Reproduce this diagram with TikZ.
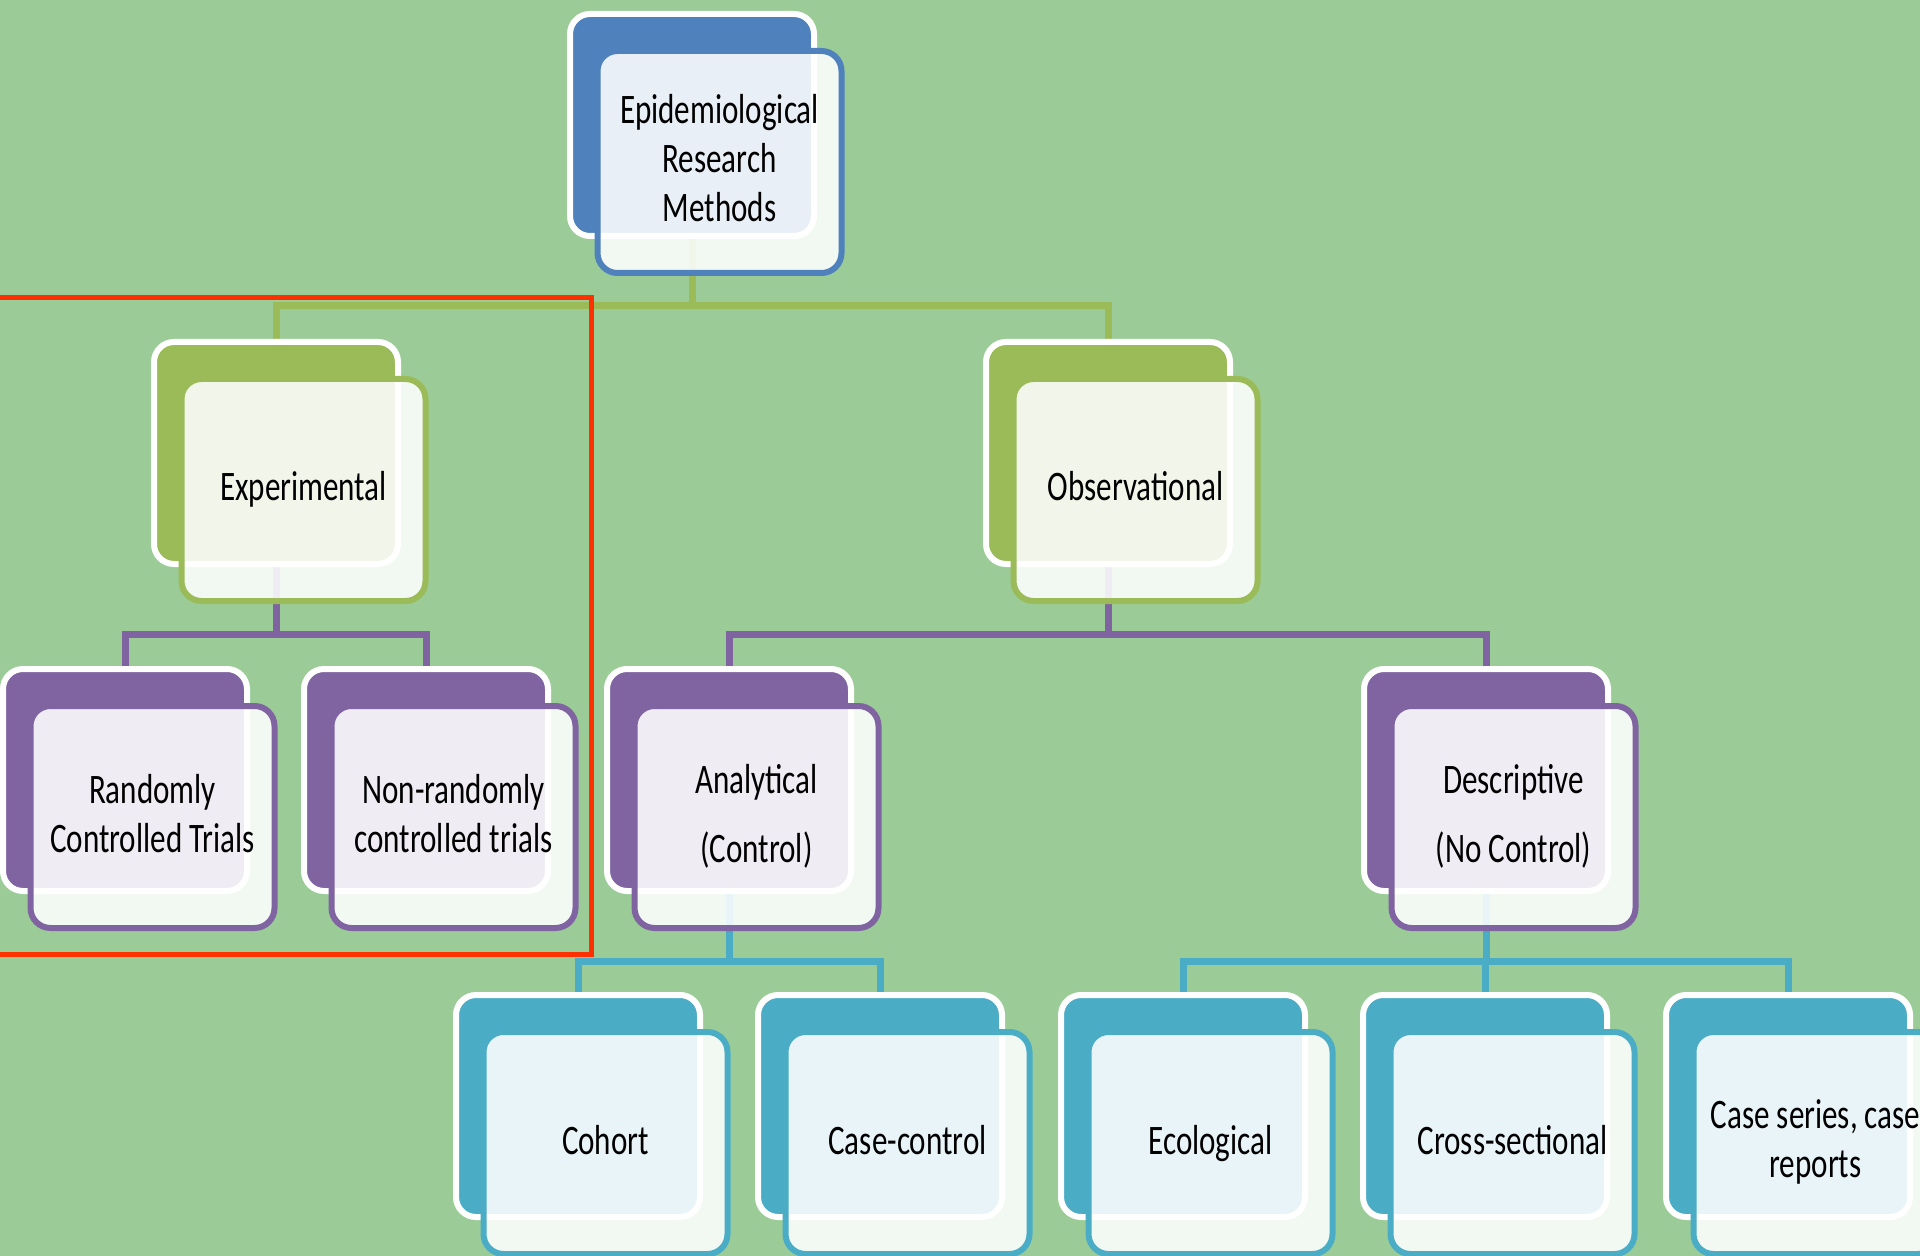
\documentclass[tikz,border=0pt]{standalone}
\usepackage{fontspec}
\newfontfamily\boxfont[FakeStretch=0.74]{Carlito}
\definecolor{bgc}{RGB}{155,204,152}
\definecolor{cblue}{RGB}{79,129,189}
\definecolor{cgreen}{RGB}{155,187,89}
\definecolor{cpurple}{RGB}{128,100,162}
\definecolor{caqua}{RGB}{75,172,198}
\definecolor{cred}{RGB}{255,48,0}
\pgfdeclarelayer{bg}
\pgfdeclarelayer{links}
\pgfsetlayers{bg,links,main}
% fixed line box so that every label is centred the same way
\newcommand{\boxstrut}{\rule[-4pt]{0pt}{19pt}}
\begin{document}
\begin{tikzpicture}[x=0.5pt,y=-0.5pt,
  back/.style={draw=white, line width=3pt, rounded corners=10pt,
    minimum width=122pt, minimum height=111pt, inner sep=0pt, fill=#1},
  front/.style={draw=#1, line width=3pt, rounded corners=10pt,
    minimum width=122pt, minimum height=111pt, inner sep=0pt,
    fill=white, fill opacity=0.88, text opacity=1, align=center,
    font=\boxfont\fontsize{21}{24.5}\selectfont, text=black,
    execute at begin node=\boxstrut, execute at end node=\boxstrut},
  link/.style={draw=#1, line width=3.5pt},
]
\useasboundingbox (0,0) rectangle (1920,1256);
\clip (0,0) rectangle (1920,1256);
\begin{pgfonlayer}{bg}
  \fill[bgc] (0,0) rectangle (1920,1256);
\end{pgfonlayer}

% level 1
\node[back=cblue] (top-b) at (692,125) {};
\node[front=cblue] (top) at (719.5,162) {Epidemiological\\Research\\Methods};

% level 2
\node[back=cgreen] (exp-b) at (276,453) {};
\node[front=cgreen] (exp) at (303.5,490) {Experimental};
\node[back=cgreen] (obs-b) at (1108,453) {};
\node[front=cgreen] (obs) at (1135.5,490) {Observational};

% level 3
\node[back=cpurple] (rct-b) at (125,780) {};
\node[front=cpurple] (rct) at (152.5,817) {Randomly\\Controlled Trials};
\node[back=cpurple] (nrct-b) at (426,780) {};
\node[front=cpurple] (nrct) at (453.5,817) {Non-randomly\\controlled trials};
\node[back=cpurple] (ana-b) at (729,780) {};
\node[front=cpurple] (ana) at (756.5,817) {Analytical\\[10pt](Control)};
\node[back=cpurple] (desc-b) at (1486,780) {};
\node[front=cpurple] (desc) at (1513.5,817) {Descriptive\\[10pt](No Control)};

% level 4
\node[back=caqua] (coh-b) at (578,1106) {};
\node[front=caqua] (coh) at (605.5,1143) {Cohort};
\node[back=caqua] (cc-b) at (880,1106) {};
\node[front=caqua] (cc) at (907.5,1143) {Case-control};
\node[back=caqua] (eco-b) at (1183,1106) {};
\node[front=caqua] (eco) at (1210.5,1143) {Ecological};
\node[back=caqua] (cross-b) at (1485,1106) {};
\node[front=caqua] (cross) at (1512.5,1143) {Cross-sectional};
\node[back=caqua] (cs-b) at (1788,1106) {};
\node[front=caqua] (cs) at (1815.5,1143) {Case series, case\\reports};

% connectors, below the boxes
\begin{pgfonlayer}{links}
  \draw[link=cgreen] (top-b.center) -- (top-b.center |- 0,306) -| (exp-b.north);
  \draw[link=cgreen] (top-b.center) -- (top-b.center |- 0,306) -| (obs-b.north);
  \draw[link=cpurple] (exp-b.center) -- (exp-b.center |- 0,634) -| (rct-b.north);
  \draw[link=cpurple] (exp-b.center) -- (exp-b.center |- 0,634) -| (nrct-b.north);
  \draw[link=cpurple] (obs-b.center) -- (obs-b.center |- 0,634) -| (ana-b.north);
  \draw[link=cpurple] (obs-b.center) -- (obs-b.center |- 0,634) -| (desc-b.north);
  \draw[link=caqua] (ana-b.center) -- (ana-b.center |- 0,961) -| (coh-b.north);
  \draw[link=caqua] (ana-b.center) -- (ana-b.center |- 0,961) -| (cc-b.north);
  \draw[link=caqua] (desc-b.center) -- (desc-b.center |- 0,961) -| (eco-b.north);
  \draw[link=caqua] (desc-b.center) -- (desc-b.center |- 0,961) -| (cross-b.north);
  \draw[link=caqua] (desc-b.center) -- (desc-b.center |- 0,961) -| (cs-b.north);
\end{pgfonlayer}

% highlight frame around the experimental branch
\draw[cred, line width=2.5pt] (-20,298) rectangle (591.5,954);
\end{tikzpicture}
\end{document}
